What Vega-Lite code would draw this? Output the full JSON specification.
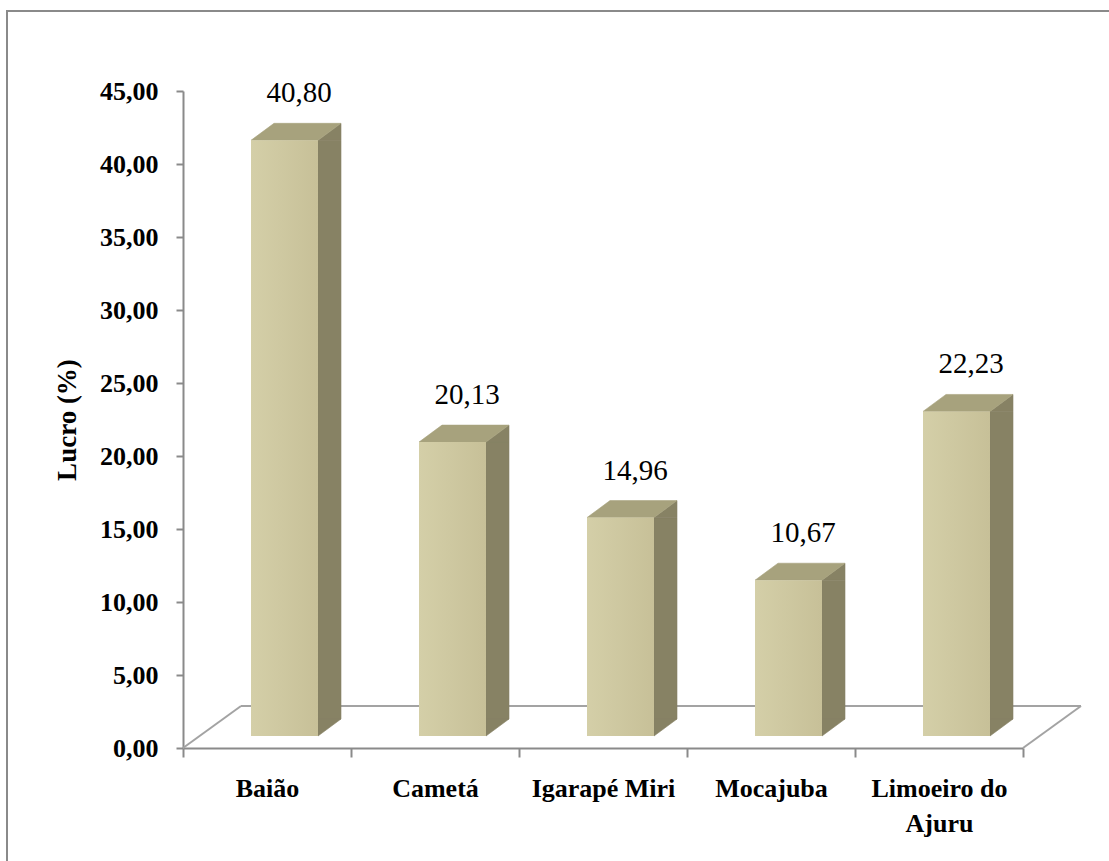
{
  "$schema": "https://vega.github.io/schema/vega-lite/v6.json",
  "width": 1103,
  "height": 851,
  "padding": {"left": 7, "top": 11, "right": -1, "bottom": -1},
  "autosize": {"type": "none"},
  "background": "white",
  "config": {
    "locale": {"number": {"decimal": ",", "thousands": ".", "grouping": [3], "currency": ["R$", ""]}},
    "view": {"stroke": "#8a8a8a", "strokeWidth": 2},
    "font": "Liberation Serif"
  },
  "data": {
    "values": [
      {"municipio": "Baião", "lucro": 40.80},
      {"municipio": "Cametá", "lucro": 20.13},
      {"municipio": "Igarapé Miri", "lucro": 14.96},
      {"municipio": "Mocajuba", "lucro": 10.67},
      {"municipio": "Limoeiro do Ajuru", "lucro": 22.23}
    ]
  },
  "resolve": {"scale": {"x": "independent"}},
  "layer": [
    {
      "data": {"values": [{}]},
      "encoding": {
        "x": {"datum": 0, "type": "quantitative", "scale": {"domain": [0, 5], "range": [176, 1016], "nice": false, "zero": false}, "axis": null},
        "y": {"datum": 0, "type": "quantitative"}
      },
      "layer": [
        {
          "mark": {"type": "rule", "color": "#a3a3a3", "strokeWidth": 2, "xOffset": 58, "x2Offset": 58, "yOffset": -42, "y2Offset": -42},
          "encoding": {"x2": {"datum": 5}}
        },
        {
          "mark": {"type": "rule", "color": "#a3a3a3", "strokeWidth": 2, "x2Offset": 58, "y2Offset": -42},
          "encoding": {"x2": {"datum": 0}, "y2": {"datum": 0}}
        },
        {
          "mark": {"type": "rule", "color": "#a3a3a3", "strokeWidth": 2, "x2Offset": 58, "y2Offset": -42},
          "encoding": {"x": {"datum": 5, "type": "quantitative"}, "x2": {"datum": 5}, "y2": {"datum": 0}}
        }
      ]
    },
    {
      "encoding": {
        "x": {
          "field": "municipio",
          "type": "nominal",
          "sort": null,
          "scale": {"range": [176, 1016], "paddingInner": 0, "paddingOuter": 0},
          "axis": {
            "title": null,
            "offset": -114,
            "tickBand": "extent",
            "labelAngle": 0,
            "labelFont": "Liberation Serif",
            "labelFontWeight": "bold",
            "labelFontSize": 26,
            "labelColor": "#000000",
            "labelPadding": 18,
            "labelLineHeight": 35,
            "labelExpr": "datum.value == 'Limoeiro do Ajuru' ? ['Limoeiro do', 'Ajuru'] : datum.label",
            "tickSize": 9,
            "tickColor": "#8a8a8a",
            "tickWidth": 2,
            "domainColor": "#8a8a8a",
            "domainWidth": 2,
            "grid": false
          }
        },
        "y": {
          "field": "lucro",
          "type": "quantitative",
          "scale": {"domain": [0, 45], "range": [737, 80], "nice": false, "zero": true},
          "axis": {
            "title": "Lucro (%)",
            "offset": -176,
            "values": [0, 5, 10, 15, 20, 25, 30, 35, 40, 45],
            "format": ".2f",
            "labelFont": "Liberation Serif",
            "labelFontWeight": "bold",
            "labelFontSize": 26,
            "labelColor": "#000000",
            "labelPadding": 18,
            "tickSize": 7,
            "tickColor": "#8a8a8a",
            "tickWidth": 2,
            "domainColor": "#8a8a8a",
            "domainWidth": 2,
            "grid": false,
            "titleFont": "Liberation Serif",
            "titleFontWeight": "bold",
            "titleFontSize": 27,
            "titleColor": "#000000",
            "titlePadding": 18
          }
        }
      },
      "layer": [
        {
          "mark": {"type": "bar", "width": 23, "xOffset": 62.5, "x2Offset": 62.5, "yOffset": -12, "y2Offset": -29, "color": "#878264", "stroke": "#878264", "strokeWidth": 0.6},
          "encoding": {"y2": {"datum": 0}}
        },
        {
          "mark": {"type": "point", "shape": "M33.5,0L56.5,-17L56.5,0Z", "size": 4, "filled": true, "opacity": 1, "color": "#878264", "stroke": "#878264", "strokeWidth": 0.6, "xOffset": 17.5, "yOffset": -12}
        },
        {
          "mark": {"type": "point", "shape": "M33.5,-17L33.5,0L56.5,-17Z", "size": 4, "filled": true, "opacity": 1, "color": "#878264", "stroke": "#878264", "strokeWidth": 0.6, "xOffset": 17.5, "yOffset": -12},
          "encoding": {"y": {"datum": 0, "type": "quantitative"}}
        },
        {
          "mark": {"type": "point", "shape": "M-33.5,0L33.5,0L56.5,-17L-10.5,-17Z", "size": 4, "filled": true, "opacity": 1, "color": "#a7a27d", "stroke": "#a7a27d", "strokeWidth": 0.6, "xOffset": 17.5, "yOffset": -12}
        },
        {
          "mark": {
            "type": "bar",
            "width": 67,
            "xOffset": 17.5,
            "x2Offset": 17.5,
            "yOffset": -12,
            "y2Offset": -12,
            "color": {
              "gradient": "linear",
              "x1": 0, "y1": 0, "x2": 1, "y2": 0,
              "stops": [
                {"offset": 0, "color": "#d4cfa8"},
                {"offset": 1, "color": "#c7c098"}
              ]
            }
          },
          "encoding": {"y2": {"datum": 0}}
        },
        {
          "mark": {"type": "text", "font": "Liberation Serif", "fontSize": 29, "color": "#000000", "align": "center", "baseline": "alphabetic", "dx": 32, "dy": -50},
          "encoding": {"text": {"field": "lucro", "type": "quantitative", "format": ".2f"}}
        }
      ]
    }
  ]
}
